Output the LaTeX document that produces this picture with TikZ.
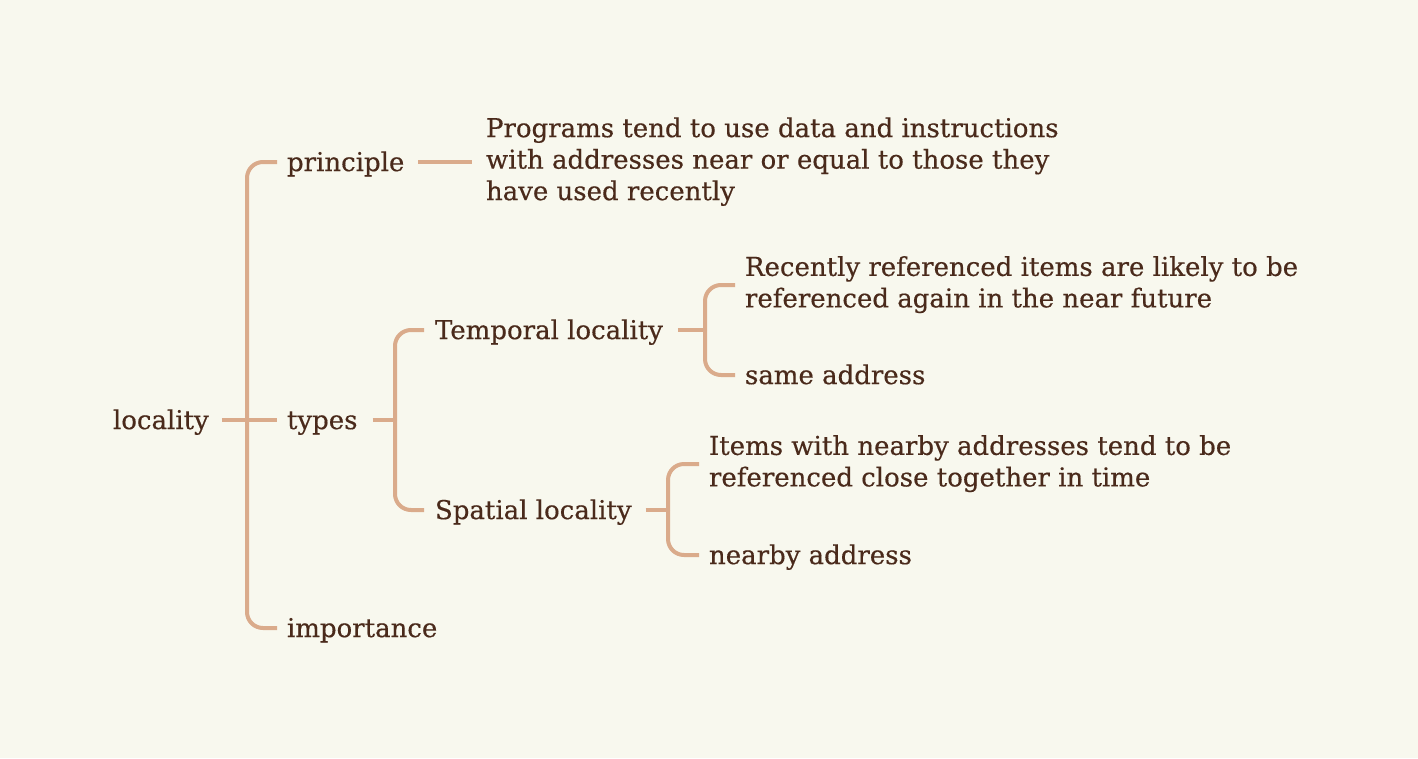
\documentclass[tikz,border=0pt]{standalone}
\usepackage{fontspec}
\setmainfont{DejaVu Serif}
\newfontfamily\lblfont{DejaVu Serif}[FakeBold=0.4]
\definecolor{bgc}{HTML}{F8F8EE}
\definecolor{linec}{HTML}{DAAB8B}
\definecolor{textc}{HTML}{4A2A1B}
\newcommand\mystrut{\rule[-0.25em]{0pt}{1.2em}}
\newcommand\mystrutB{\rule[-0.25em]{0pt}{\dimexpr1.2em+4pt\relax}}
\tikzset{
  lbl/.style={anchor=west, inner sep=0pt, outer sep=0pt, align=left, text=textc,
    font=\lblfont\fontsize{26}{31.5}\selectfont,
    execute at begin node=\mystrut, execute at end node=\mystrut},
  multi/.style={lbl, execute at begin node=\mystrutB},
  conn/.style={draw=linec, line width=4pt, rounded corners=16pt, line cap=butt}
}
\begin{document}
\begin{tikzpicture}[x=1pt,y=-1pt]
\fill[bgc] (0,0) rectangle (1418,758);
\useasboundingbox (0,0) rectangle (1418,758);

\node[lbl] (locality) at (113,420) {locality};
\node[lbl] (principle) at (287,162) {principle};
\node[lbl] (types) at (287,420) {types};
\node[lbl] (importance) at (287,628) {importance};
\node[multi] (prog) at (486,162) {Programs tend to use data and instructions\\with addresses near or equal to those they\\have used recently};
\node[lbl] (temporal) at (435,330) {Temporal locality};
\node[lbl] (spatial) at (435,510) {Spatial locality};
\node[multi] (recent) at (745,285) {Recently referenced items are likely to be\\referenced again in the near future};
\node[lbl] (same) at (745,375) {same address};
\node[multi] (items) at (709,464) {Items with nearby addresses tend to be\\referenced close together in time};
\node[lbl] (nearby) at (709,555) {nearby address};

\coordinate (s1) at (247,420);
\coordinate (s2) at (395,420);
\coordinate (s3) at (705,330);
\coordinate (s4) at (668,510);

\draw[conn] ([xshift=13pt]locality.east) -- (s1);
\draw[conn] (s1) |- ([xshift=-10pt]principle.west);
\draw[conn] (s1) -- ([xshift=-10pt]types.west);
\draw[conn] (s1) |- ([xshift=-10pt]importance.west);

\draw[conn] ([xshift=14pt]principle.east) -- ([xshift=-14pt]prog.west);

\draw[conn] ([xshift=15pt]types.east) -- (s2);
\draw[conn] (s2) |- ([xshift=-11pt]temporal.west);
\draw[conn] (s2) |- ([xshift=-11pt]spatial.west);

\draw[conn] ([xshift=15pt]temporal.east) -- (s3);
\draw[conn] (s3) |- ([xshift=-10pt]recent.west);
\draw[conn] (s3) |- ([xshift=-10pt]same.west);

\draw[conn] ([xshift=14pt]spatial.east) -- (s4);
\draw[conn] (s4) |- ([xshift=-10pt]items.west);
\draw[conn] (s4) |- ([xshift=-10pt]nearby.west);
\end{tikzpicture}
\end{document}
